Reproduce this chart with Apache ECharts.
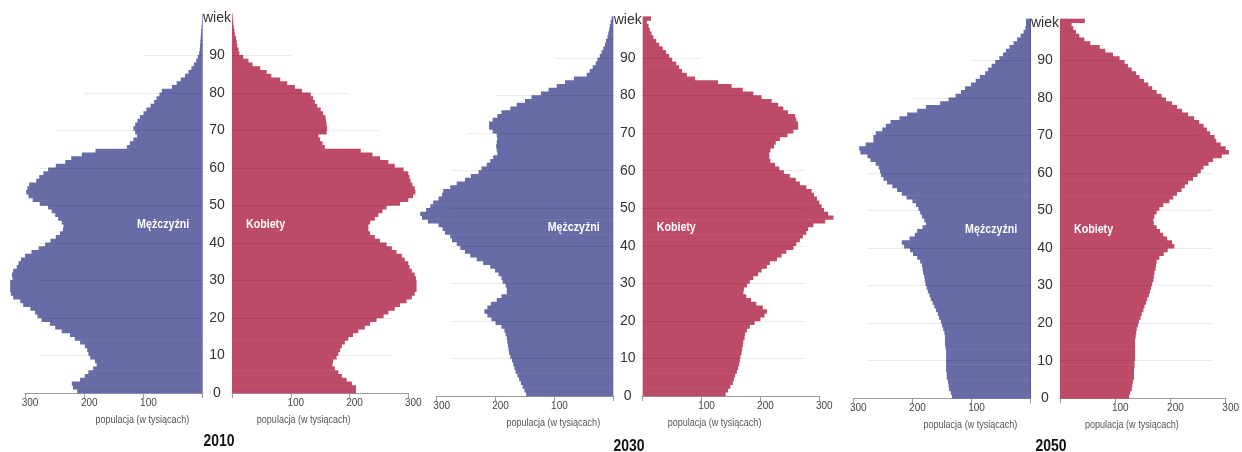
<!DOCTYPE html>
<html>
<head>
<meta charset="utf-8">
<script src="https://cdn.jsdelivr.net/npm/echarts@6/dist/echarts.min.js"></script>
<style>
html,body{margin:0;padding:0;background:#fff;}
#c{width:1242px;height:452px;}
</style>
</head>
<body>
<div id="c"></div>
<script>
// ---- categories: age 0 .. 100 (100 = 100+) ----
const ages = [0,1,2,3,4,5,6,7,8,9,10,11,12,13,14,15,16,17,18,19,20,21,22,23,24,25,26,27,28,29,30,31,32,33,34,35,36,37,38,39,40,41,42,43,44,45,46,47,48,49,50,51,52,53,54,55,56,57,58,59,60,61,62,63,64,65,66,67,68,69,70,71,72,73,74,75,76,77,78,79,80,81,82,83,84,85,86,87,88,89,90,91,92,93,94,95,96,97,98,99,100];
const ageTickLabels = ['0','10','20','30','40','50','60','70','80','90','wiek'];
const popTickLabels = ['', '100', '200', '300'];
const axisTitle = 'populacja (w tysiącach)';
const maleName = 'Mężczyźni';
const femaleName = 'Kobiety';
const years = ['2010', '2030', '2050'];

// ---- values in thousands, index = age ----
const male2010 = [212,219,221,207,199,193,185,179,182,190,193,195,199,207,216,224,238,249,258,272,279,283,291,303,308,320,324,325,325,325,321,322,320,314,311,307,300,289,277,266,257,248,241,236,235,238,244,249,255,261,275,287,294,298,296,293,281,276,269,261,248,232,222,204,181,128,123,117,111,114,117,114,110,106,100,95,88,82,78,73,69,52,44,37,30,24,19,15,11,8.4,6,5,4.5,4,3.5,3,2.5,2,1.5,1,1];
const female2010 = [211,211,204,195,187,181,175,171,172,178,181,184,187,192,198,206,215,226,235,246,258,266,277,286,297,306,311,314,314,314,313,311,306,302,300,294,289,280,272,263,252,243,235,232,232,235,243,249,256,263,286,300,308,312,311,307,304,302,300,292,277,266,252,239,219,158,154,150,147,161,162,161,160,159,155,151,145,141,138,134,119,107,94,82,67,59,48,35,28,19,12.5,11,9,8,7,5,4,3,2,1.5,1];
const male2030 = [148,151,154,157,160,163,166,168,170,172,175,177,178,179,180,181,183,185,190,200,207,214,219,214,208,198,190,181,181,183,188,190,195,201,209,221,232,243,252,260,266,274,277,286,290,297,315,325,328,318,311,306,297,291,289,277,266,252,242,229,224,215,209,204,197,198,199,198,197,198,205,211,211,205,197,190,175,164,150,139,123,110,96,82,67,45,40,35,30,27,23,20,17,14,12.5,10,8.5,7,6,4.5,3];
const female2030 = [141,145,149,153,155,157,160,162,164,165,166,168,169,170,171,173,174,177,182,190,200,207,211,204,193,184,176,171,172,177,182,188,196,202,211,216,228,236,244,256,261,267,272,278,281,290,310,324,315,308,304,300,296,291,287,278,267,260,250,240,232,225,217,215,215,217,223,226,233,246,256,264,264,261,259,247,239,230,219,202,188,170,151,128,89,75,67,62,57,50,45,40,34,28,23,18,15,12,10,7,14];
const male2050 = [133,135,138,139,140,142,142,143,143,143,143,143,143,144,145,145,145,146,148,150,152,155,157,160,163,166,169,171,174,176,178,179,180,182,183,184,187,192,199,204,214,218,205,196,192,183,177,180,184,187,190,194,200,210,218,226,234,243,249,253,255,257,262,271,276,288,290,279,266,266,262,251,245,237,222,209,192,177,153,139,127,118,111,101,93,86,77,72,66,60,53,47,42,36,29,23,17,12,9,8,8];
const female2050 = [125,127,130,131,132,134,134,134,135,135,136,136,136,136,136,136,137,138,139,141,143,146,148,151,153,156,158,161,163,165,167,169,170,171,173,174,175,180,188,195,207,203,194,187,181,175,170,169,171,175,180,187,198,205,212,220,226,232,241,249,255,260,269,277,293,306,300,291,283,280,272,266,260,252,243,232,221,212,203,192,184,175,167,160,152,144,138,130,123,117,108,96,82,72,55,44,35,29,24,21,45];

// ---- styling / layout (pixels) ----
const FONT = "'Liberation Sans Narrow','Liberation Sans',Arial,sans-serif";
const NARROW = 0.82;
const MALE_COLOR = '#676ba6';
const FEMALE_COLOR = '#bd4a67';
const GRID_LINE = 'rgba(0,0,0,0.08)';
const gridLineAges = [10,20,30,40,50,60,70,80,90];
const gridLineReach = [275,275,275,275,275,275,250,200,100];
const labelAge = 45;
const maleTitleAt = 102;   // axis-title centre, in axis units
const femaleTitleAt = 122;

const panels = [
  {year: years[0], male: male2010, female: female2010, mL: 25,    mW: 177.7, fL: 232,   fW: 176.3, top: 14,   h: 379,   centerLine: false, tX: 219,  tY: 441},
  {year: years[1], male: male2030, female: female2030, mL: 436.7, mW: 176.6, fL: 642.7, fW: 176.6, top: 16.7, h: 379.3, centerLine: false, tX: 629,  tY: 446},
  {year: years[2], male: male2050, female: female2050, mL: 853.3, mW: 177.4, fL: 1060,  fW: 176.7, top: 19,   h: 379.3, centerLine: true,  tX: 1051, tY: 446}
];

const grid = [], xAxis = [], yAxis = [], series = [], graphic = [];

function narrowText(x, y, text, align, size, weight, fill) {
  return {
    type: 'text', z: 100, silent: true, x: x, y: y, scaleX: NARROW,
    style: {
      text: text, textAlign: align, textVerticalAlign: 'middle',
      fill: fill, fontFamily: FONT, fontSize: size, fontWeight: weight
    }
  };
}

panels.forEach((p, pi) => {
  const sides = [
    {isM: true,  left: p.mL, width: p.mW, data: p.male,   color: MALE_COLOR},
    {isM: false, left: p.fL, width: p.fW, data: p.female, color: FEMALE_COLOR}
  ];
  sides.forEach((s, si) => {
    const g = pi * 2 + si;
    grid.push({left: s.left, top: p.top, width: s.width, height: p.h});
    xAxis.push({
      gridIndex: g, type: 'value', inverse: s.isM, min: 0, max: 300, interval: 100,
      axisLine: {show: true, onZero: false, lineStyle: {color: '#9a9a9a', width: 1}},
      axisTick: {show: true, length: 5, lineStyle: {color: '#9a9a9a'}},
      splitLine: {show: false},
      axisLabel: {
        formatter: v => popTickLabels[Math.round(v / 100)] || '',
        fontFamily: FONT, fontSize: 10, color: '#444', margin: 5,
        padding: [0, 0, 0, 10]
      }
    });
    // hidden category axis carrying the bars
    yAxis.push({
      gridIndex: g, type: 'category', data: ages, show: false,
      position: s.isM ? 'left' : 'right', boundaryGap: true
    });
    // value axis for age labels / centre line
    yAxis.push({
      gridIndex: g, type: 'value', min: 0, max: 101, interval: 10,
      position: s.isM ? 'right' : 'left',
      axisLine: {show: s.isM && p.centerLine, lineStyle: {color: '#2e2e48', width: 1}},
      axisTick: {show: false},
      splitLine: {show: false},
      axisLabel: {
        show: !s.isM,
        formatter: v => (v % 10 === 0 && v <= 100) ? ageTickLabels[v / 10] : '',
        fontFamily: FONT, fontSize: 14, color: '#333',
        align: 'center', margin: 15
      }
    });
    series.push({
      type: 'bar', name: s.isM ? maleName : femaleName,
      xAxisIndex: g, yAxisIndex: 2 * g,
      data: s.data, barCategoryGap: '0%', barWidth: '118%', clip: false,
      itemStyle: {color: s.color},
      z: 2, silent: true
    });
    series.push({
      type: 'line', xAxisIndex: g, yAxisIndex: 2 * g + 1, data: [], z: 5, silent: true,
      markLine: {
        silent: true, symbol: ['none', 'none'], animation: false,
        label: {show: false},
        lineStyle: {color: GRID_LINE, width: 1, type: 'solid'},
        emphasis: {disabled: true},
        data: gridLineAges.map((a, i) => [{coord: [0, a]}, {coord: [gridLineReach[i], a]}])
      }
    });
    // sex label inside the bars
    const ly = p.top + p.h * (1 - labelAge / 101);
    graphic.push(narrowText(
      s.isM ? s.left + s.width - 13.5 : s.left + 14, ly,
      s.isM ? maleName : femaleName, s.isM ? 'right' : 'left', 13, 'bold', '#fff'));
    // axis title
    const tx = s.isM ? s.left + s.width * (1 - maleTitleAt / 300) : s.left + s.width * femaleTitleAt / 300;
    graphic.push(narrowText(tx, p.top + p.h + 27, axisTitle, 'center', 11, 'normal', '#555'));
  });
  graphic.push(narrowText(p.tX, p.tY, p.year, 'center', 17, 'bold', '#111'));
});

const chart = echarts.init(document.getElementById('c'), null, {renderer: 'canvas'});
chart.setOption({
  animation: false,
  backgroundColor: '#fff',
  grid, xAxis, yAxis, series, graphic
});
</script>
</body>
</html>
